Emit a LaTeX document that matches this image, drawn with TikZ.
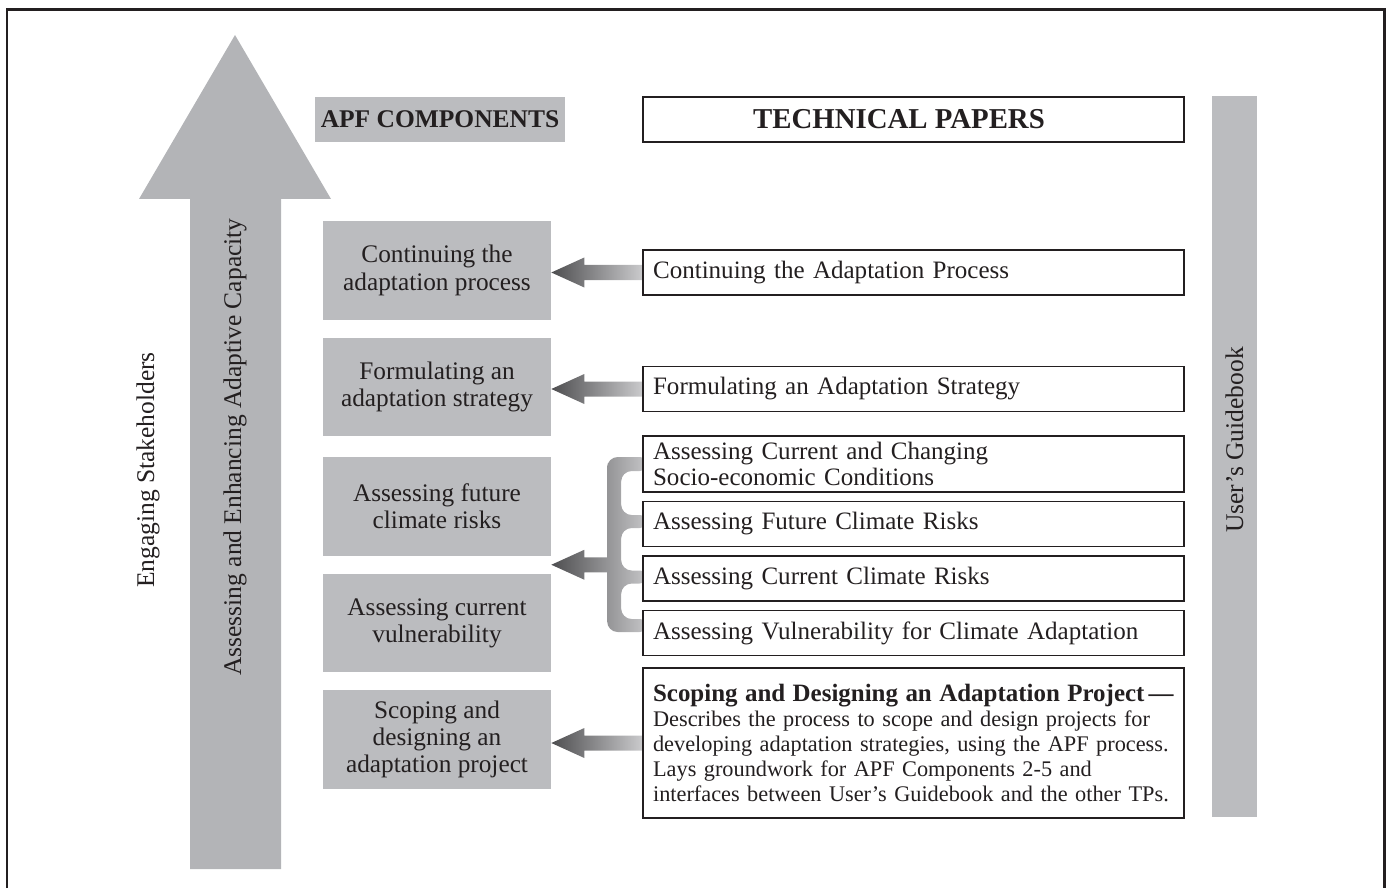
\documentclass[tikz,border=0pt]{standalone}
\usepackage{fontspec}
\setmainfont{Liberation Serif}
\usetikzlibrary{calc,backgrounds}

\definecolor{apfgray}{RGB}{187,188,191}
\definecolor{bigarrow}{RGB}{179,180,183}
\definecolor{arrowdark}{RGB}{78,78,80}
\definecolor{arrowlight}{RGB}{202,202,204}
\definecolor{ink}{RGB}{35,31,32}

\tikzset{
  compbox/.style={fill=apfgray, minimum width=4.56cm, minimum height=1.98cm,
    align=center, text=ink, inner sep=0pt, font=\fontsize{14.4}{15.5}\selectfont},
  paperbox/.style={draw=ink, line width=1pt, fill=white, minimum width=10.82cm,
    minimum height=0.9cm, text width=10.42cm, inner xsep=0.2cm, align=left,
    text=ink, font=\fontsize{14.25}{15}\selectfont},
  sidelabel/.style={rotate=90, text=ink, font=\fontsize{14.5}{15}\selectfont},
  arrowshade/.style={left color=arrowdark, right color=arrowlight},
}

% block arrow from a technical paper to its APF component
\newcommand{\blockarrow}[2]{%
  \coordinate (tip) at (#2.east |- #1.west);
  \shade[arrowshade] (tip) -- ++(33,-15) -- ++(0,7.5) -- ($(#1.west)+(0,-7.5)$)
    -- ($(#1.west)+(0,7.5)$) -- ($(tip)+(33,7.5)$) -- ++(0,7.5) -- cycle;}

\begin{document}
\begin{tikzpicture}[x=0.02cm,y=-0.02cm]
\useasboundingbox (0,0) rectangle (1391,888);

\draw[line width=0.06cm, draw=ink] (7,888) -- (7,10) -- (1384.5,10) -- (1384.5,888);

% big arrow
\fill[bigarrow] (190,869) -- (190,199) -- (139,199) -- (235,35) -- (331,199)
  -- (281,199) -- (281,869) -- cycle;
\node[sidelabel] (engage) at (148,470) {Engaging Stakeholders};
\node[sidelabel] (capacity) at (235,447) {Assessing and Enhancing Adaptive Capacity};

% guidebook bar
\fill[apfgray] (1212,96) rectangle (1257,817);
\node[sidelabel] (guide) at (1234.5,440) {User’s Guidebook};

% headers
\node[fill=apfgray, minimum width=5cm, minimum height=0.9cm, text=ink,
  font=\fontsize{14.5}{15}\selectfont\bfseries] (apf) at (440,119.5) {APF COMPONENTS};
\node[draw=ink, line width=1pt, minimum width=10.82cm, minimum height=0.9cm] (tp) at (913.5,119.5) {};
\node[text=ink, font=\fontsize{16.4}{17}\selectfont\bfseries] (tplabel) at (899,119.5) {TECHNICAL PAPERS};

% APF components
\node[compbox] (c1) at (437,270.5) {Continuing the\\adaptation process};
\node[compbox] (c2) at (437,387) {Formulating an\\adaptation strategy};
\node[compbox] (c3) at (437,506.5) {Assessing future\\climate risks};
\node[compbox] (c4) at (437,623) {Assessing current\\vulnerability};
\node[compbox] (c5) at (437,739.5) {Scoping and\\designing an\\adaptation project};

% technical papers
\node[paperbox] (t1) at (913.5,272.5) {Continuing the Adaptation Process};
\node[paperbox] (t2) at (913.5,389) {Formulating an Adaptation Strategy};
\node[paperbox, minimum height=1.08cm] (t3) at (913.5,464) {Assessing Current and Changing\\Socio-economic Conditions};
\node[paperbox] (t4) at (913.5,524) {Assessing Future Climate Risks};
\node[paperbox] (t5) at (913.5,578.5) {Assessing Current Climate Risks};
\node[paperbox] (t6) at (913.5,633) {Assessing Vulnerability for Climate Adaptation};
\node[paperbox, minimum height=3cm, font=\fontsize{12.7}{14.1}\selectfont] (t7) at (913.5,743)
  {\mbox{\fontsize{14.2}{14.1}\selectfont\bfseries Scoping and Designing an Adaptation Project\,---}\\
   \mbox{Describes the process to scope and design projects for}\\
   \mbox{developing adaptation strategies, using the APF process.}\\
   \mbox{Lays groundwork for APF Components 2-5 and}\\
   \mbox{interfaces between User’s Guidebook and the other TPs.}};

\begin{scope}[on background layer]
\blockarrow{t1}{c1}
\blockarrow{t2}{c2}
\blockarrow{t7}{c5}
% bracket joining the four assessment papers
\coordinate (btip) at ($(c3.south east)!.5!(c4.north east)$);
\shade[arrowshade]
  [rounded corners=6] ($(t3.west)+(-35,10)$) -- ($(t3.west)+(-35,-7)$) -- ($(t3.west)+(8,-7)$)
  -- ($(t3.west)+(8,7)$) -- ($(t3.west)+(-21,7)$)
  -- ($(t4.west)+(-21,-9)$) -- ($(t4.west)+(8,-9)$) -- ($(t4.west)+(8,4)$) -- ($(t4.west)+(-21,4)$)
  -- ($(t5.west)+(-21,-8)$) -- ($(t5.west)+(8,-8)$) -- ($(t5.west)+(8,5)$) -- ($(t5.west)+(-21,5)$)
  -- ($(t6.west)+(-21,-14)$) -- ($(t6.west)+(8,-14)$) -- ($(t6.west)+(8,-1)$) -- ($(t6.west)+(-35,-1)$)
  -- cycle
  [sharp corners] (btip) -- ++(33,-15) -- ++(0,7.5) -- ++(28,0) -- ++(0,15) -- ++(-28,0)
  -- ++(0,7.5) -- cycle;
\end{scope}

\end{tikzpicture}
\end{document}
